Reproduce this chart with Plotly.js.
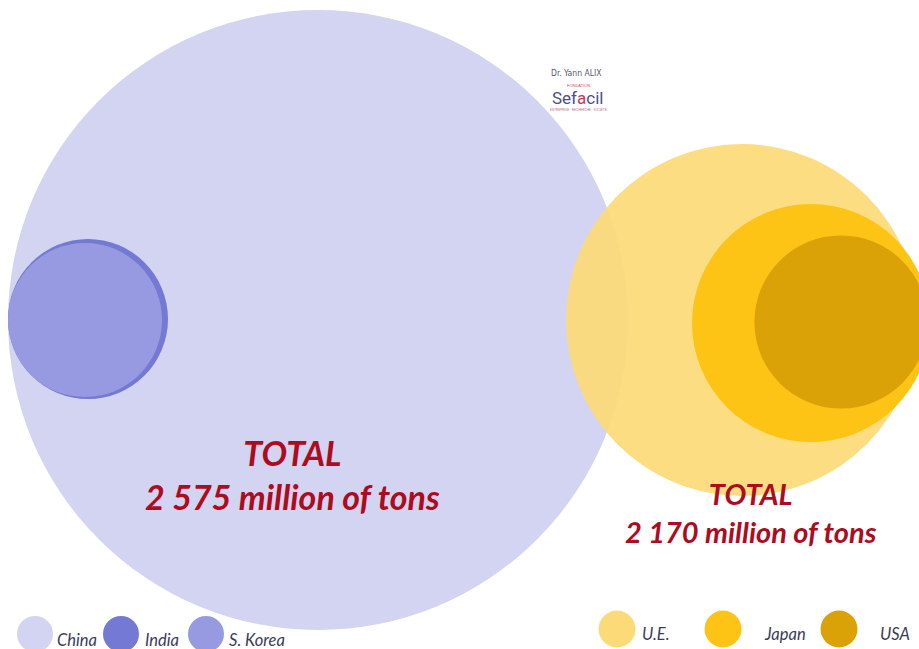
<!DOCTYPE html>
<html>
<head>
<meta charset="utf-8">
<script src="https://cdn.plot.ly/plotly-3.0.1.min.js"></script>
<style>
html,body{margin:0;padding:0;background:#ffffff;}
#chart{width:919px;height:649px;}
</style>
</head>
<body>
<div id="chart"></div>
<script>
const asiaCategories = ['China', 'India', 'S. Korea'];
const asiaValues = [2282, 152, 141];
const westCategories = ['U.E.', 'Japan', 'USA'];
const westValues = [1277, 584, 309];

// ---- styles / layout ----
const asiaColors = ['#d3d4f1', '#7479d3', '#979ae0'];
const westColors = ['#fdda78', '#fdc315', '#dba207'];
const asiaSizeRef = 0.005937 * 2;
const westSizeRef = 0.010306 * 2;
const asiaCenterX = [318, 88, 85];
const asiaCenterY = [320, 319, 320];
const westCenterX = [742, 811, 841];
const westCenterY = [320, 323, 322];

function fmt(n) {
  return String(n).replace(/\B(?=(\d{3})+(?!\d))/g, ' ');
}
const sum = a => a.reduce((s, v) => s + v, 0);

const traces = [];
asiaCategories.forEach((c, i) => {
  traces.push({
    type: 'scatter', mode: 'markers', name: c,
    x: [asiaCenterX[i]], y: [asiaCenterY[i]],
    marker: {size: [asiaValues[i]], sizemode: 'area', sizeref: asiaSizeRef,
             color: asiaColors[i], line: {width: 0}, opacity: 1},
    hoverinfo: 'name', showlegend: false
  });
});
westCategories.forEach((c, i) => {
  traces.push({
    type: 'scatter', mode: 'markers', name: c,
    x: [westCenterX[i]], y: [westCenterY[i]],
    marker: {size: [westValues[i]], sizemode: 'area', sizeref: westSizeRef,
             color: westColors[i], line: {width: 0}, opacity: i === 0 ? 0.93 : 1},
    hoverinfo: 'name', showlegend: false
  });
});

// ---- custom legend ----
const legAsiaMarkX = [35, 121, 206];
const legAsiaTextX = [55, 143, 227];
const legWestMarkX = [617, 723, 839];
const legWestTextX = [640, 762, 878];
traces.push({
  type: 'scatter', mode: 'markers', x: legAsiaMarkX, y: [634, 634, 634],
  marker: {size: 36, color: asiaColors, line: {width: 0}}, hoverinfo: 'skip', showlegend: false
});
traces.push({
  type: 'scatter', mode: 'markers', x: legWestMarkX, y: [629, 629, 629],
  marker: {size: 37, color: westColors, line: {width: 0}}, hoverinfo: 'skip', showlegend: false
});

const legFont = {family: 'Lato, "Open Sans", sans-serif', size: 16.5, color: '#3b3b58', style: 'italic'};
const annotations = [];
asiaCategories.forEach((c, i) => annotations.push({
  x: legAsiaTextX[i], y: 640, xref: 'x', yref: 'y', text: c, showarrow: false,
  xanchor: 'left', yanchor: 'middle', font: legFont
}));
westCategories.forEach((c, i) => annotations.push({
  x: legWestTextX[i], y: 634, xref: 'x', yref: 'y', text: c, showarrow: false,
  xanchor: 'left', yanchor: 'middle', font: legFont
}));

// totals
const totalFontFamily = 'Lato, "Open Sans", sans-serif';
annotations.push({
  x: 292, y: 474, xref: 'x', yref: 'y', showarrow: false, xanchor: 'center', yanchor: 'middle',
  text: '<b><i>TOTAL<br>' + fmt(sum(asiaValues)) + ' million of tons</i></b>',
  font: {family: totalFontFamily, size: 34, color: '#ad0b1e'}
});
annotations.push({
  x: 751, y: 512, xref: 'x', yref: 'y', showarrow: false, xanchor: 'center', yanchor: 'middle',
  text: '<b><i>TOTAL<br>' + fmt(sum(westValues)) + ' million of tons</i></b>',
  font: {family: totalFontFamily, size: 29, color: '#ad0b1e'}
});

// logo
annotations.push({x: 576, y: 73, xref: 'x', yref: 'y', showarrow: false, text: 'Dr. Yann ALIX',
  font: {family: '"DejaVu Sans Condensed", sans-serif', size: 8.5, color: '#5a5a6a'}});
annotations.push({x: 578, y: 85, xref: 'x', yref: 'y', showarrow: false, text: 'FONDATION',
  font: {family: 'sans-serif', size: 4, color: '#c0506a'}});
annotations.push({x: 577, y: 98, xref: 'x', yref: 'y', showarrow: false,
  text: 'Sef<span style="color:#c23a5a">a</span>cil',
  font: {family: 'Roboto, sans-serif', size: 17, color: '#4a4f86'}});
annotations.push({x: 578, y: 109, xref: 'x', yref: 'y', showarrow: false, text: 'ENTREPRISE · RECHERCHE · SOCIÉTÉ',
  font: {family: 'sans-serif', size: 3, color: '#b07080'}});

const layout = {
  width: 919, height: 649,
  margin: {l: 0, r: 0, t: 0, b: 0, pad: 0},
  paper_bgcolor: '#ffffff', plot_bgcolor: '#ffffff',
  xaxis: {range: [0, 919], visible: false, fixedrange: true},
  yaxis: {range: [649, 0], visible: false, fixedrange: true},
  showlegend: false,
  annotations: annotations
};

Plotly.newPlot('chart', traces, layout, {displayModeBar: false, staticPlot: true});
</script>
</body>
</html>
